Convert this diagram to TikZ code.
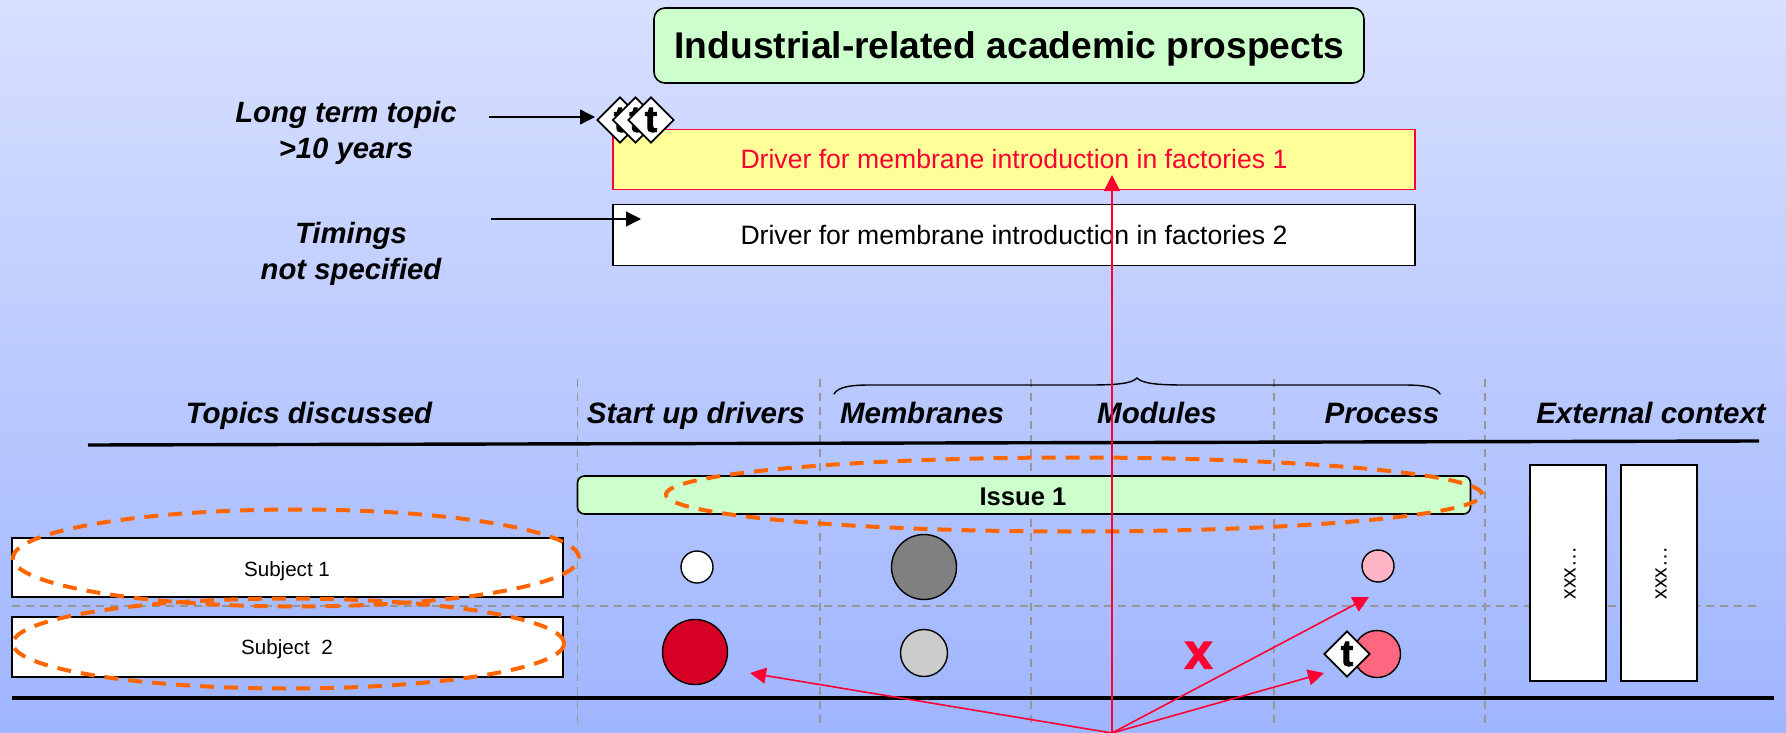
\documentclass[tikz,border=0pt]{standalone}
\usepackage{fontspec}
\setmainfont{Liberation Sans}
\newfontfamily\heavyfont[FakeBold=2.4]{Liberation Sans Bold}
\usetikzlibrary{shapes.geometric,arrows.meta}
\definecolor{bgtop}{HTML}{D8E0FF}
\definecolor{bgbot}{HTML}{9FB5FF}
\definecolor{mint}{HTML}{CCFFCC}
\definecolor{paley}{HTML}{FFFF99}
\definecolor{hotred}{HTML}{FF0033}
\definecolor{orangeD}{HTML}{FF6600}
\definecolor{gridg}{HTML}{969696}
\definecolor{crimson}{HTML}{D60026}
\definecolor{softpink}{HTML}{FFB5C5}
\definecolor{rosered}{HTML}{FF6680}
\newcommand{\fs}[1]{\fontsize{#1}{#1}\selectfont}
\tikzset{
  x=1pt,y=-1pt,
  whitebox/.style={draw=black,line width=1.6pt,fill=white,inner sep=0pt,text=black},
  redline/.style={draw=hotred,line width=1.6pt,-{Triangle[length=16pt,width=16pt]}},
  blackarrow/.style={draw=black,line width=1.4pt,-{Triangle[length=15pt,width=15pt]}},
  griddash/.style={draw=gridg,line width=1.4pt,dash pattern=on 8pt off 6pt},
  rule/.style={draw=black,line width=3.4pt},
  oval/.style={ellipse,draw=orangeD,line width=4pt,dash pattern=on 14pt off 10pt,inner sep=0pt},
  dot/.style={circle,draw=black,line width=1.4pt,inner sep=0pt},
  tdiamond/.style={diamond,aspect=1,draw=black,line width=1.8pt,fill=white,inner sep=0pt,minimum width=46pt,minimum height=46pt,font=\heavyfont\fs{37}},
  head/.style={inner sep=0pt,anchor=base,font=\bfseries\itshape\fs{29.5}},
  side/.style={inner sep=0pt,align=center,font=\bfseries\itshape\fs{29.3}},
  basetext/.style={inner sep=0pt,anchor=base}
}
\begin{document}
\begin{tikzpicture}
\useasboundingbox (0,0) rectangle (1786,733);
\shade[top color=bgtop,bottom color=bgbot] (0,0) rectangle (1786,733);

% grid
\coordinate (va1) at (577.5,379); \coordinate (vb1) at (577.5,723);
\coordinate (va2) at (820,379);   \coordinate (vb2) at (820,723);
\coordinate (va3) at (1031,379);  \coordinate (vb3) at (1031,723);
\coordinate (va4) at (1274,379);  \coordinate (vb4) at (1274,723);
\coordinate (va5) at (1485,379);  \coordinate (vb5) at (1485,723);
\coordinate (ha) at (12,606);     \coordinate (hb) at (1756,606);
\draw[griddash] (va1)--(vb1);
\draw[griddash] (va2)--(vb2);
\draw[griddash] (va3)--(vb3);
\draw[griddash] (va4)--(vb4);
\draw[griddash] (va5)--(vb5);
\draw[griddash] (ha)--(hb);

% title
\node[draw=black,line width=1.6pt,fill=mint,rounded corners=11pt,minimum width=710pt,minimum height=75pt,inner sep=0pt] (title) at (1009,45.5) {};
\node[basetext,font=\bfseries\fs{37.2}] (titleT) at (1009.5,59) {Industrial-related academic prospects};

% drivers
\node[draw=hotred,line width=1.8pt,fill=paley,minimum width=802pt,minimum height=60pt,inner sep=0pt] (d1) at (1014,159.5) {};
\node[basetext,text=hotred,font=\fs{26.6}] (d1T) at (1014,168) {Driver for membrane introduction in factories 1};
\node[whitebox,minimum width=802pt,minimum height=61pt] (d2) at (1014,235) {};
\node[basetext,font=\fs{26.6}] (d2T) at (1014,244.5) {Driver for membrane introduction in factories 2};

% long term markers
\node[tdiamond] (t1) at (620,120) {t};
\node[tdiamond] (t2) at (635.5,120) {t};
\node[tdiamond] (t3) at (651,120) {t};

% side labels
\node[side] (lt) at (346,133) {Long term topic\\[6.2pt]{>}10 years};
\node[side] (tm) at (351,254) {Timings\\[6pt]not specified};
\coordinate (ltS) at (489,117);
\coordinate (ltE) at (595,117);
\coordinate (tmS) at (491,219);
\coordinate (tmE) at (641,219);
\draw[blackarrow] (ltS) -- (ltE);
\draw[blackarrow] (tmS) -- (tmE);

% brace
\coordinate (brL) at (834,394);
\coordinate (brR) at (1440,394);
\coordinate (brT) at (1137,378);
\draw[draw=black,line width=1.4pt,line cap=round] (brL) .. controls (838,387) and (850,385) .. (870,385) -- (1090,385) .. controls (1120,385) and (1132,383) .. (brT) .. controls (1142,383) and (1154,385) .. (1184,385) -- (1404,385) .. controls (1424,385) and (1436,387) .. (brR);

% headers
\node[head] (h1) at (309,423.5) {Topics discussed};
\node[head] (h2) at (696,423.5) {Start up drivers};
\node[head] (h3) at (922,423.5) {Membranes};
\node[head] (h4) at (1157,423.5) {Modules};
\node[head] (h5) at (1382,423.5) {Process};
\node[head] (h6) at (1651,423.5) {External context};
\coordinate (ruleA) at (88,445); \coordinate (ruleB) at (1759,441);
\draw[rule] (ruleA)--(ruleB);
\coordinate (ruleC) at (12,698); \coordinate (ruleD) at (1774,698);
\draw[rule] (ruleC)--(ruleD);

% issue
\node[draw=black,line width=1.6pt,fill=mint,rounded corners=7pt,minimum width=893pt,minimum height=38pt,inner sep=0pt] (issue) at (1024,495) {};
\node[basetext,font=\bfseries\fs{25.6}] (issueT) at (1023,505) {Issue 1};

% subjects
\node[whitebox,minimum width=551pt,minimum height=59pt] (s1) at (287.5,567.5) {};
\node[basetext,font=\fs{20.6}] (s1T) at (287,576.5) {Subject 1};
\node[whitebox,minimum width=551pt,minimum height=60pt] (s2) at (287.5,647) {};
\node[basetext,font=\fs{20.6}] (s2T) at (287,654.5) {Subject\ \ 2};

% external
\node[whitebox,minimum width=76pt,minimum height=216pt] (e1) at (1568,573) {};
\node[whitebox,minimum width=76pt,minimum height=216pt] (e2) at (1659,573) {};
\node[rotate=90,inner sep=0pt,font=\fs{21}] (e1t) at (1570,573) {xxx…};
\node[rotate=90,inner sep=0pt,font=\fs{21}] (e2t) at (1661,573) {xxx…};

% dots
\node[dot,fill=white,minimum size=32pt] (c1) at (697,567) {};
\node[dot,fill=gray,minimum size=65pt] (c2) at (924,567) {};
\node[dot,fill=softpink,minimum size=32pt] (c3) at (1378,566) {};
\node[dot,fill=crimson,minimum size=65pt] (c4) at (695,652) {};
\node[dot,fill=black!20,minimum size=47pt] (c5) at (924,653) {};
\node[dot,fill=rosered,minimum size=47pt] (c6) at (1377,654) {};
\node[tdiamond] (t4) at (1347,654) {t};
\node[basetext,text=hotred,font=\heavyfont\fs{50}] (xm) at (1198.5,668.5) {x};

% ovals
\node[oval,minimum width=816pt,minimum height=74pt] (o1) at (1074,494.5) {};
\node[oval,minimum width=566pt,minimum height=97pt] (o2) at (296,558) {};
\node[oval,minimum width=551pt,minimum height=90pt] (o3) at (288.5,643.5) {};

% red arrows
\coordinate (apex) at (1112,733);
\coordinate (e0) at (1112,175);
\coordinate (e3) at (750,673);
\coordinate (e4) at (1369,597);
\coordinate (e5) at (1324,673);
\draw[redline] (apex)--(e0);
\draw[redline] (apex)--(e3);
\draw[redline] (apex)--(e4);
\draw[redline] (apex)--(e5);
\end{tikzpicture}
\end{document}
